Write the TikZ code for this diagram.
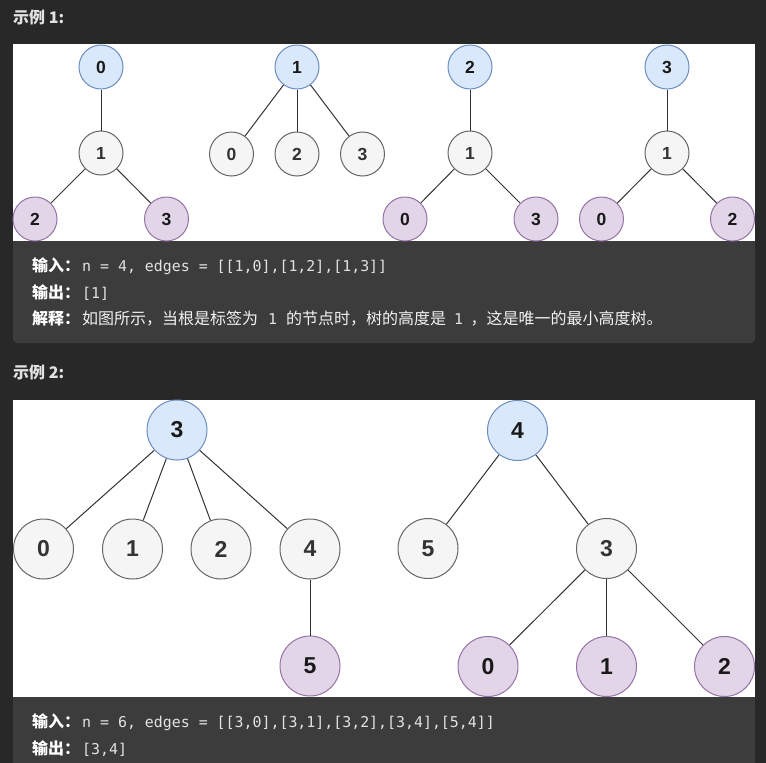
\documentclass[tikz,border=0pt]{standalone}
\usepackage{fontspec}
\setmainfont{Liberation Sans}
\newfontfamily\cjk{Noto Sans CJK SC}
\newfontfamily\code{DejaVu Sans Mono}
\definecolor{pagebg}{HTML}{282828}
\definecolor{codebg}{HTML}{3C3C3C}
\definecolor{titlecol}{HTML}{E2E2E2}
\definecolor{codecol}{HTML}{E2E2E2}
\definecolor{bluefill}{HTML}{DAE8FC}
\definecolor{bluedraw}{HTML}{6C8EBF}
\definecolor{greyfill}{HTML}{F5F5F5}
\definecolor{greydraw}{HTML}{666666}
\definecolor{purpfill}{HTML}{E1D5E7}
\definecolor{purpdraw}{HTML}{9673A6}
\definecolor{linecol}{HTML}{333333}
\newcommand{\lbl}[1]{{\cjk\bfseries\color{white}#1}}
\newcommand{\txt}[1]{{\cjk\color{white!95!black}#1}}
\newcommand{\cde}[1]{{\code\fontsize{14.9}{16}\selectfont\color{codecol}#1}}
\begin{document}
\begin{tikzpicture}[x=1pt,y=-1pt,
  tnode/.style={circle, draw, line width=1pt, inner sep=0pt},
  smallnode/.style={tnode, minimum size=44pt, font=\fontsize{17.5}{17.5}\selectfont\bfseries},
  bignode/.style={tnode, minimum size=60pt, font=\fontsize{23}{23}\selectfont\bfseries},
  rootnode/.style={fill=bluefill, draw=bluedraw, text=black!90},
  midnode/.style={fill=greyfill, draw=greydraw, text=linecol},
  leafnode/.style={fill=purpfill, draw=purpdraw, text=black!90},
  link/.style={draw=linecol, line width=1pt},
  titletext/.style={anchor=base west, inner sep=0pt, text=titlecol, font=\cjk\bfseries\fontsize{16}{16}\selectfont},
  codeline/.style={anchor=base west, inner sep=0pt, font=\fontsize{16}{16}\selectfont}
]
\useasboundingbox (0,0) rectangle (766,763);
\fill[pagebg] (0,0) rectangle (766,763);

% ---------- Example 1 ----------
\node[titletext] (title1) at (13,23) {示例 1:};
\fill[codebg, rounded corners=4pt] (13,230) rectangle (755,343);
\fill[white] (13,44) rectangle (755,241);

% tree A
\node[smallnode, rootnode] (a0) at (101,67) {0};
\node[smallnode, midnode] (a1) at (101,153) {1};
\node[smallnode, leafnode] (a2) at (35,219) {2};
\node[smallnode, leafnode] (a3) at (166.5,219) {3};
\draw[link] (a0) -- (a1);
\draw[link] (a1) -- (a2);
\draw[link] (a1) -- (a3);

% tree B
\node[smallnode, rootnode] (b1) at (297,67) {1};
\node[smallnode, midnode] (b0) at (231.5,154) {0};
\node[smallnode, midnode] (b2) at (297,154) {2};
\node[smallnode, midnode] (b3) at (362.5,154) {3};
\draw[link] (b1) -- (b0);
\draw[link] (b1) -- (b2);
\draw[link] (b1) -- (b3);

% tree C
\node[smallnode, rootnode] (c2) at (470,67) {2};
\node[smallnode, midnode] (c1) at (470,153) {1};
\node[smallnode, leafnode] (c0) at (405,219) {0};
\node[smallnode, leafnode] (c3) at (536,219) {3};
\draw[link] (c2) -- (c1);
\draw[link] (c1) -- (c0);
\draw[link] (c1) -- (c3);

% tree D
\node[smallnode, rootnode] (d3) at (667,67) {3};
\node[smallnode, midnode] (d1) at (667,153) {1};
\node[smallnode, leafnode] (d0) at (601.5,219) {0};
\node[smallnode, leafnode] (d2) at (732.5,219) {2};
\draw[link] (d3) -- (d1);
\draw[link] (d1) -- (d0);
\draw[link] (d1) -- (d2);

\node[codeline] (in1) at (32,271) {\lbl{输入：}\hspace{2pt}\cde{n = 4, edges = [[1,0],[1,2],[1,3]]}};
\node[codeline] (out1) at (32,298) {\lbl{输出：}\hspace{2pt}\cde{[1]}};
\node[codeline] (exp1) at (32,324) {\lbl{解释：}\hspace{2pt}\txt{如图所示，当根是标签为}\hspace{10pt}\cde{1}\hspace{9pt}\txt{的节点时，树的高度是}\hspace{8pt}\cde{1}\hspace{7.5pt}\txt{，这是唯一的最小高度树。}};

% ---------- Example 2 ----------
\node[titletext] (title2) at (13,378) {示例 2:};
\fill[codebg] (13,697) rectangle (755,763);
\fill[white] (13,400) rectangle (755,697);

% tree E
\node[bignode, rootnode] (e3) at (177,430) {3};
\node[bignode, midnode] (e0) at (43.5,549) {0};
\node[bignode, midnode] (e1) at (132.5,549) {1};
\node[bignode, midnode] (e2) at (221,549) {2};
\node[bignode, midnode] (e4) at (310,549) {4};
\node[bignode, leafnode] (e5) at (310,666) {5};
\draw[link] (e3) -- (e0);
\draw[link] (e3) -- (e1);
\draw[link] (e3) -- (e2);
\draw[link] (e3) -- (e4);
\draw[link] (e4) -- (e5);

% tree F
\node[bignode, rootnode] (f4) at (517.5,430.5) {4};
\node[bignode, midnode] (f5) at (428,548.5) {5};
\node[bignode, midnode] (f3) at (606.5,548.5) {3};
\node[bignode, leafnode] (f0) at (488,666.5) {0};
\node[bignode, leafnode] (f1) at (606.5,666.5) {1};
\node[bignode, leafnode] (f2) at (724.5,666.5) {2};
\draw[link] (f4) -- (f5);
\draw[link] (f4) -- (f3);
\draw[link] (f3) -- (f0);
\draw[link] (f3) -- (f1);
\draw[link] (f3) -- (f2);

\node[codeline] (in2) at (32,727) {\lbl{输入：}\hspace{2pt}\cde{n = 6, edges = [[3,0],[3,1],[3,2],[3,4],[5,4]]}};
\node[codeline] (out2) at (32,754) {\lbl{输出：}\hspace{2pt}\cde{[3,4]}};
\end{tikzpicture}
\end{document}
